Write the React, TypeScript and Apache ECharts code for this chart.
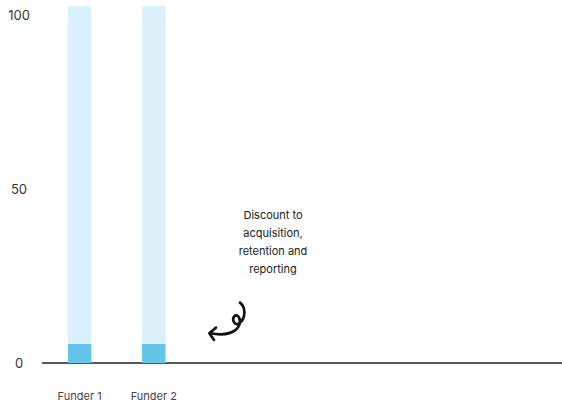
import React, { useEffect, useRef } from "react";
import * as echarts from "echarts";

const categories = ["Funder 1", "Funder 2", "", "", "", "", ""];
const discountValues = [5.5, 5.5, null, null, null, null, null];
const remainderValues = [97, 97, null, null, null, null, null];
const yTicks = { min: 0, max: 100, interval: 50 };
const annotationLines = ["Discount to", "acquisition,", "retention and", "reporting"];

const arrowPath =
  "M 120 38 C 138 52, 138 85, 118 100 C 104 110, 94 88, 104 78 C 114 70, 124 88, 118 105 C 110 125, 80 140, 32 130 M 48 113 L 28 130 L 42 150";

export default function App() {
  const ref = useRef<HTMLDivElement>(null);
  useEffect(() => {
    if (!ref.current) return;
    echarts.graphic.registerShape("curlyArrow", echarts.graphic.extendPath(arrowPath, {}));
    const chart = echarts.init(ref.current, null, { renderer: "svg" });
    chart.setOption({
      animation: false,
      backgroundColor: "#ffffff",
      grid: { left: 42.5, width: 532, top: 15, height: 348 },
      xAxis: {
        type: "category",
        data: categories,
        axisLine: { show: true, lineStyle: { color: "#222", width: 1.5 } },
        axisTick: { show: false },
        axisLabel: {
          margin: 27,
          fontSize: 11,
          color: "#444",
          fontFamily: "Inter",
        },
        splitLine: { show: false },
      },
      yAxis: {
        type: "value",
        min: yTicks.min,
        max: yTicks.max,
        interval: yTicks.interval,
        axisLine: { show: false },
        axisTick: { show: false },
        splitLine: { show: false },
        axisLabel: {
          align: "center",
          margin: 23.5,
          fontSize: 13,
          color: "#333",
          fontFamily: "Inter",
        },
      },
      series: [
        {
          type: "bar",
          stack: "s",
          data: discountValues,
          barWidth: 23.5,
          clip: false,
          itemStyle: { color: "#63c6e9" },
        },
        {
          type: "bar",
          stack: "s",
          data: remainderValues,
          barWidth: 23.5,
          clip: false,
          itemStyle: { color: "#daf0fa" },
        },
      ],
      graphic: [
        {
          type: "text",
          x: 273,
          y: 206,
          style: {
            text: annotationLines.join("\n"),
            align: "center",
            verticalAlign: "top",
            fontSize: 11,
            lineHeight: 18,
            fill: "#222",
            fontFamily: "Inter",
          },
        },
        {
          type: "curlyArrow",
          x: 200,
          y: 290,
          scaleX: 1 / 3,
          scaleY: 1 / 3,
          style: {
            fill: "none",
            stroke: "#111",
            lineWidth: 8,
            lineCap: "round",
            lineJoin: "round",
          },
        },
      ],
    });
    return () => chart.dispose();
  }, []);
  return (
    <div
      ref={ref}
      style={{ position: "absolute", left: 0, top: 0, width: 562, height: 408 }}
    />
  );
}
